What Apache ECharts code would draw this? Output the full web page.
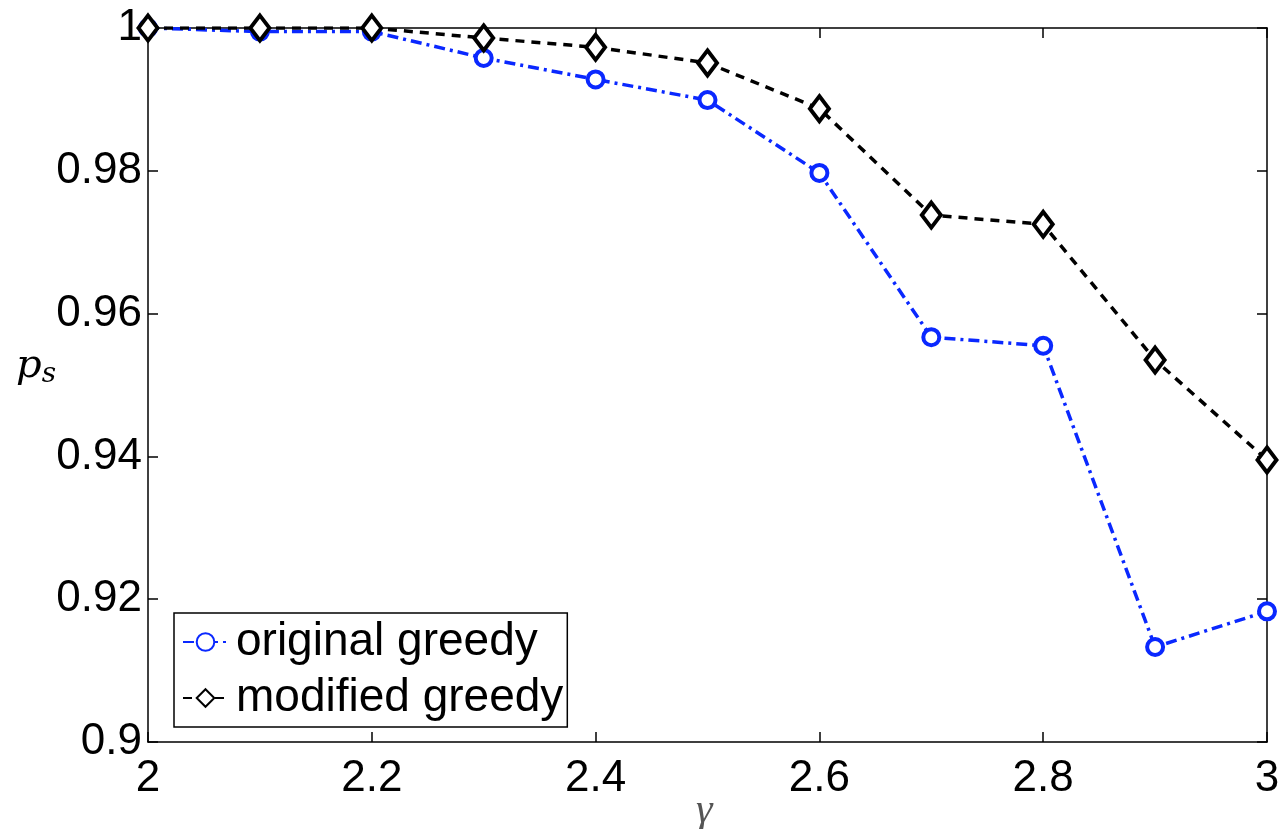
<!DOCTYPE html>
<html>
<head>
<meta charset="utf-8">
<script src="https://cdn.jsdelivr.net/npm/echarts@6/dist/echarts.min.js"></script>
<style>
  html, body { margin: 0; padding: 0; background: #fff; }
  #chart { width: 1283px; height: 829px; }
</style>
</head>
<body>
<div id="chart"></div>
<script>
// gamma values on the x axis
var gammas = [2, 2.1, 2.2, 2.3, 2.4, 2.5, 2.6, 2.7, 2.8, 2.9, 3];
var originalGreedy = [1.0, 0.9995, 0.9995, 0.9958, 0.9928, 0.9899, 0.9797, 0.9567, 0.9555, 0.9133, 0.9183];
var modifiedGreedy = [1.0, 1.0, 1.0, 0.9986, 0.9973, 0.9951, 0.9887, 0.9738, 0.9725, 0.9535, 0.9395];
var xTickLabels = ['2', '2.2', '2.4', '2.6', '2.8', '3'];
var yTickLabels = ['0.9', '0.92', '0.94', '0.96', '0.98', '1'];

var myChart = echarts.init(document.getElementById('chart'));

function pairs(ys) {
    return gammas.map(function (g, i) { return [g, ys[i]]; });
}

var labelFont = { fontFamily: 'Liberation Sans', fontSize: 44, color: '#000' };
var axisLine = { show: true, lineStyle: { color: '#000', width: 1.5 } };
var tick = { show: true, inside: true, length: 10, lineStyle: { color: '#000', width: 1.5 } };

option = {
    animation: false,
    backgroundColor: '#fff',
    grid: { left: 148, right: 16, top: 28, bottom: 87, outerBoundsMode: 'none', containLabel: false },
    // x axis title (gamma), placed under the tick labels
    graphic: [{
        type: 'text',
        left: 696,
        top: 790,
        style: {
            text: 'γ',
            font: 'italic 42px "Liberation Serif"',
            fill: '#555'
        }
    }],
    legend: {
        left: 174,
        top: 613,
        orient: 'vertical',
        padding: [6, 4, 6, 8],
        itemGap: 10,
        itemWidth: 45,
        itemHeight: 22,
        borderColor: '#000',
        borderWidth: 1.5,
        borderRadius: 0,
        backgroundColor: '#fff',
        textStyle: { fontFamily: 'Liberation Sans', fontSize: 46, lineHeight: 46, color: '#000', padding: [0, 0, 0, 3] },
        data: ['original greedy', 'modified greedy']
    },
    xAxis: [{
        type: 'value',
        min: 2, max: 3, interval: 0.2,
        axisLine: axisLine,
        axisTick: tick,
        splitLine: { show: false },
        axisLabel: Object.assign({ margin: 15, hideOverlap: false, formatter: function (v) {
            return xTickLabels[Math.round((v - 2) / 0.2)];
        } }, labelFont)
    }, {
        type: 'value', position: 'top',
        min: 2, max: 3, interval: 0.2,
        axisLine: axisLine, axisTick: tick,
        axisLabel: { show: false }, splitLine: { show: false }
    }],
    yAxis: [{
        type: 'value',
        min: 0.9, max: 1, interval: 0.02,
        name: '{p|p}{s|s}',
        nameLocation: 'middle',
        nameMoveOverlap: false,
        nameRotate: 0,
        nameGap: 92,
        nameTextStyle: {
            padding: [0, 0, 36, 0],
            rich: {
                p: { fontFamily: 'DejaVu Serif', fontStyle: 'italic', fontSize: 40, color: '#000' },
                s: { fontFamily: 'DejaVu Serif', fontStyle: 'italic', fontSize: 28, color: '#000', padding: [16, 0, 0, 0] }
            }
        },
        axisLine: axisLine,
        axisTick: tick,
        splitLine: { show: false },
        axisLabel: Object.assign({ margin: 6, hideOverlap: false, formatter: function (v) {
            return yTickLabels[Math.round((v - 0.9) / 0.02)];
        } }, labelFont)
    }, {
        type: 'value', position: 'right',
        min: 0.9, max: 1, interval: 0.02,
        axisLine: axisLine, axisTick: tick,
        axisLabel: { show: false }, splitLine: { show: false }
    }],
    series: [{
        name: 'original greedy',
        type: 'line',
        data: pairs(originalGreedy),
        symbol: 'circle',
        symbolSize: 16,
        z: 3,
        itemStyle: { color: '#fff', borderColor: '#0a28ff', borderWidth: 4 },
        lineStyle: { color: '#0a28ff', width: 3.5, type: [11, 5, 3, 5] }
    }, {
        name: 'modified greedy',
        type: 'line',
        data: pairs(modifiedGreedy),
        symbol: 'diamond',
        symbolSize: [19, 25],
        z: 4,
        itemStyle: { color: '#fff', borderColor: '#000', borderWidth: 4 },
        lineStyle: { color: '#000', width: 3.5, type: [9, 7] }
    }]
};

myChart.setOption(option);
</script>
</body>
</html>
